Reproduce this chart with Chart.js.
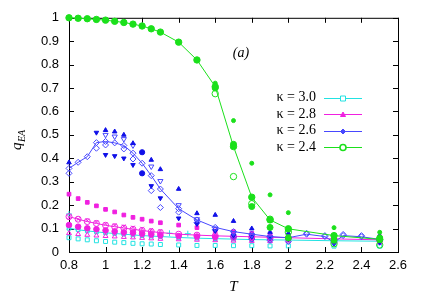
<!DOCTYPE html>
<html>
<head>
<meta charset="utf-8">
<script src="https://cdn.jsdelivr.net/npm/chart.js@4.4.0/dist/chart.umd.min.js"></script>
<style>
  html, body { margin: 0; padding: 0; background: #fff; }
</style>
</head>
<body>
<canvas id="myChart" width="424" height="297"></canvas>
<script>
// tick labels
const xTicks = [0.8, 1, 1.2, 1.4, 1.6, 1.8, 2, 2.2, 2.4, 2.6];
const yTicks = [0, 0.1, 0.2, 0.3, 0.4, 0.5, 0.6, 0.7, 0.8, 0.9, 1];

const seriesLabels = ['κ = 3.0', 'κ = 2.8', 'κ = 2.6', 'κ = 2.4'];

// temperatures
const tMain = [0.8, 0.85, 0.9, 0.95, 1.0, 1.05, 1.1, 1.15, 1.2, 1.25, 1.3, 1.4, 1.5, 1.6, 1.7, 1.8, 1.9, 2.0, 2.25, 2.5];
const tLow = [0.8, 0.85, 0.9, 0.95, 1.0, 1.05, 1.1, 1.15, 1.2, 1.25, 1.3];
const tBlue = [0.8, 0.85, 0.9, 0.95, 1.0, 1.05, 1.1, 1.15, 1.2, 1.25, 1.3, 1.4, 1.5, 1.6, 1.7, 1.8, 1.9, 2.0, 2.1, 2.2, 2.25, 2.3, 2.4, 2.5];

// averaged curves
const qCyan = [0.101, 0.095, 0.09, 0.086, 0.082, 0.079, 0.076, 0.073, 0.07, 0.068, 0.066, 0.062, 0.059, 0.057, 0.055, 0.053, 0.052, 0.051, 0.048, 0.046];
const qMagenta = [0.151, 0.14, 0.13, 0.122, 0.114, 0.108, 0.102, 0.097, 0.092, 0.087, 0.083, 0.076, 0.072, 0.069, 0.067, 0.065, 0.063, 0.061, 0.056, 0.052];
const qBlue = [0.357, 0.383, 0.407, 0.467, 0.472, 0.466, 0.455, 0.422, 0.379, 0.326, 0.269, 0.185, 0.137, 0.105, 0.087, 0.076, 0.066, 0.061, 0.076, 0.066, 0.041, 0.07, 0.065, 0.054];
const qGreen = [1.0, 0.998, 0.996, 0.993, 0.99, 0.985, 0.98, 0.973, 0.965, 0.953, 0.939, 0.896, 0.82, 0.706, 0.45, 0.234, 0.137, 0.099, 0.07, 0.054];

// single samples, kappa = 3.0
const cyanSquareQ = [0.061, 0.056, 0.052, 0.048, 0.045, 0.042, 0.04, 0.037, 0.035, 0.034, 0.032, 0.03, 0.028, 0.028, 0.027, 0.027, 0.026, 0.026, 0.025, 0.025];
const cyanCrossQ = [0.105, 0.1, 0.095, 0.09, 0.086, 0.082, 0.079, 0.076, 0.073, 0.07, 0.068];
const cyanPlusT = [0.8, 1.35, 1.45];
const cyanPlusQ = [0.162, 0.08, 0.078];

// single samples, kappa = 2.8
const magSquareQ = [0.247, 0.228, 0.212, 0.197, 0.182, 0.171, 0.158, 0.148, 0.14, 0.132, 0.125, 0.115, 0.104, 0.09, 0.087, 0.08, 0.075, 0.07, 0.07, 0.065];
const magDiscQ = [0.115, 0.108, 0.101, 0.097, 0.092, 0.088, 0.084, 0.082, 0.078, 0.075, 0.071, 0.068, 0.066, 0.064, 0.062, 0.06, 0.058, 0.056, 0.05, 0.048];
const magRingQ = [0.148, 0.14, 0.135, 0.128, 0.12, 0.115, 0.11, 0.105, 0.1, 0.095, 0.09];
const magTriQ = [0.08, 0.076, 0.073, 0.07, 0.068, 0.066, 0.064, 0.062, 0.06, 0.058, 0.056, 0.054, 0.052, 0.05, 0.048, 0.047, 0.046, 0.045, 0.042, 0.04];

// single samples, kappa = 2.6
const blueUpT = [0.8, 1.0, 1.05, 1.1, 1.15, 1.25, 1.3, 1.4, 1.5, 1.6, 1.7, 1.8, 1.9, 2.0, 2.25, 2.5];
const blueUpQ = [0.382, 0.52, 0.514, 0.5, 0.464, 0.393, 0.353, 0.269, 0.165, 0.158, 0.132, 0.1, 0.085, 0.08, 0.055, 0.07];
const blueDownT = [1.0, 1.05, 1.1, 1.15, 1.25, 1.3, 1.4, 1.5, 1.6, 1.7, 1.8, 1.9];
const blueDownQ = [0.5, 0.493, 0.482, 0.455, 0.365, 0.303, 0.2, 0.14, 0.1, 0.08, 0.072, 0.062];
const blueDownFillT = [0.95, 1.0, 1.05, 1.1, 1.15, 1.25, 1.3, 1.4, 1.5, 1.6, 1.7, 1.8, 1.9, 2.0, 2.25, 2.5];
const blueDownFillQ = [0.51, 0.415, 0.41, 0.4, 0.372, 0.282, 0.23, 0.144, 0.12, 0.09, 0.07, 0.065, 0.06, 0.055, 0.035, 0.04];
const blueDiamondT = [0.8, 0.95, 1.0, 1.1, 1.15, 1.25, 1.3, 1.4, 1.5, 1.6, 1.7, 1.8, 1.9, 2.0, 2.1, 2.2, 2.25, 2.3, 2.4, 2.5];
const blueDiamondQ = [0.336, 0.443, 0.457, 0.44, 0.397, 0.262, 0.19, 0.17, 0.125, 0.095, 0.065, 0.055, 0.05, 0.045, 0.08, 0.07, 0.045, 0.075, 0.07, 0.05];
const blueDiscT = [1.2, 1.2];
const blueDiscQ = [0.426, 0.336];

// single samples, kappa = 2.4
const greenT = [1.6, 1.7, 1.8, 1.9, 2.0, 2.25, 2.5];
const greenSmallQ = [0.721, 0.561, 0.379, 0.244, 0.168, 0.104, 0.084];
const greenRingQ = [0.676, 0.322, 0.206, 0.14, 0.085, 0.035, 0.03];
const greenDiscQ = [0.7, 0.46, 0.194, 0.105, 0.06, 0.05, 0.06];

{
  'use strict';

  const colors = {
    cyan: '#22e2e2',
    magenta: '#f020e0',
    blue: '#1010e8',
    blueLine: '#4848ff',
    green: '#1be01b',
  };

  const toPoints = function(xs, ys){
    return xs.map((x, i) => ({x: x, y: ys[i]}));
  };

  const lineSet = function(xs, ys, lineColor, color, style, radius, filled){
    return {
      data: toPoints(xs, ys),
      showLine: true,
      borderColor: lineColor,
      borderWidth: 1,
      pointStyle: style,
      pointRadius: radius,
      pointBorderColor: color,
      pointBackgroundColor: filled ? color : 'rgba(255,255,255,0)',
      pointBorderWidth: 1,
      clip: false,
    };
  };

  const dotSet = function(xs, ys, color, style, radius, filled, rotation){
    return {
      data: toPoints(xs, ys),
      showLine: false,
      pointStyle: style,
      pointRadius: radius,
      pointRotation: rotation || 0,
      pointBorderColor: color,
      pointBackgroundColor: filled ? color : 'rgba(255,255,255,0)',
      pointBorderWidth: 1,
      clip: false,
    };
  };

  const drawMarker = function(ctx, style, x, y, r, color, filled){
    ctx.save();
    ctx.strokeStyle = color;
    ctx.fillStyle = filled ? color : '#fff';
    ctx.lineWidth = style === 'ring' ? 1.6 : 1;
    ctx.beginPath();
    if(style === 'rect'){
      ctx.rect(x - r, y - r, 2 * r, 2 * r);
    } else if(style === 'triangle'){
      ctx.moveTo(x, y - r);
      ctx.lineTo(x + r, y + r * 0.8);
      ctx.lineTo(x - r, y + r * 0.8);
      ctx.closePath();
    } else if(style === 'diamond'){
      ctx.moveTo(x, y - r);
      ctx.lineTo(x + r, y);
      ctx.lineTo(x, y + r);
      ctx.lineTo(x - r, y);
      ctx.closePath();
    } else {
      ctx.arc(x, y, r, 0, Math.PI * 2);
    }
    ctx.fill();
    ctx.stroke();
    ctx.restore();
  };

  const framePlugin = {
    id: 'frame',
    beforeDatasetsDraw(chart){
      const {ctx, chartArea} = chart;
      const {left, right, top, bottom} = chartArea;
      ctx.save();
      ctx.strokeStyle = '#000';
      ctx.lineWidth = 1;
      ctx.strokeRect(left + 0.5, top + 0.5, right - left, bottom - top);
      ctx.beginPath();
      for(let v of xTicks){
        const px = Math.round(chart.scales.x.getPixelForValue(v)) + 0.5;
        ctx.moveTo(px, bottom);
        ctx.lineTo(px, bottom - 5);
        ctx.moveTo(px, top);
        ctx.lineTo(px, top + 5);
      }
      for(let v of yTicks){
        const py = Math.round(chart.scales.y.getPixelForValue(v)) + 0.5;
        ctx.moveTo(left, py);
        ctx.lineTo(left + 5, py);
        ctx.moveTo(right, py);
        ctx.lineTo(right - 5, py);
      }
      ctx.stroke();
      ctx.restore();
    },
    afterDraw(chart){
      const {ctx, chartArea} = chart;
      const {left, right, top} = chartArea;
      ctx.save();

      // panel tag
      ctx.fillStyle = '#000';
      ctx.font = 'italic 14px "Liberation Serif"';
      ctx.textAlign = 'center';
      ctx.textBaseline = 'middle';
      ctx.fillText('(a)', left + 172, top + 36);

      // y axis title with subscript
      ctx.save();
      ctx.translate(17, 138);
      ctx.rotate(-Math.PI / 2);
      ctx.textAlign = 'left';
      ctx.textBaseline = 'alphabetic';
      ctx.font = 'italic 15px "Liberation Serif"';
      ctx.fillText('q', -12, 4);
      ctx.font = 'italic 10px "Liberation Serif"';
      ctx.fillText('EA', -4, 8);
      ctx.restore();

      // legend
      const legendColors = [colors.cyan, colors.magenta, colors.blueLine, colors.green];
      const legendMarks = ['rect', 'triangle', 'diamond', 'ring'];
      const legendFilled = [false, true, true, false];
      const legendSize = [2.5, 2.5, 2.5, 3];
      ctx.font = '14px "Liberation Serif"';
      ctx.textAlign = 'right';
      ctx.textBaseline = 'middle';
      for(let i = 0; i < seriesLabels.length; i++){
        const y = top + 80 + i * 16.4;
        ctx.fillStyle = '#000';
        ctx.fillText(seriesLabels[i], right - 82, y);
        ctx.strokeStyle = legendColors[i];
        ctx.lineWidth = 1;
        ctx.beginPath();
        ctx.moveTo(right - 74, Math.round(y) + 0.5);
        ctx.lineTo(right - 36, Math.round(y) + 0.5);
        ctx.stroke();
        drawMarker(ctx, legendMarks[i], right - 55, Math.round(y) + 0.5, legendSize[i], legendColors[i], legendFilled[i]);
      }
      ctx.restore();
    }
  };

  const initChart = function(){
    const ctx = document.getElementById('myChart').getContext('2d');

    const datasets = [
      // kappa = 2.4
      lineSet(tMain, qGreen, colors.green, colors.green, 'circle', 3.2, true),
      dotSet(greenT, greenSmallQ, colors.green, 'circle', 2, true),
      dotSet(greenT, greenRingQ, colors.green, 'circle', 3.2, false),
      dotSet(greenT, greenDiscQ, colors.green, 'circle', 3, true),
      // kappa = 2.6
      lineSet(tBlue, qBlue, colors.blueLine, colors.blueLine, 'rectRot', 3, false),
      dotSet(blueUpT, blueUpQ, colors.blue, 'triangle', 2.6, true),
      dotSet(blueDownT, blueDownQ, colors.blueLine, 'triangle', 3, false, 180),
      dotSet(blueDownFillT, blueDownFillQ, colors.blue, 'triangle', 2.6, true, 180),
      dotSet(blueDiamondT, blueDiamondQ, colors.blueLine, 'rectRot', 3, false),
      dotSet(blueDiscT, blueDiscQ, colors.blue, 'circle', 2.6, true),
      // kappa = 2.8
      lineSet(tMain, qMagenta, colors.magenta, colors.magenta, 'circle', 3, false),
      dotSet(tMain, magSquareQ, colors.magenta, 'rect', 2.6, true),
      dotSet(tMain, magDiscQ, colors.magenta, 'circle', 2.8, true),
      dotSet(tLow, magRingQ, colors.magenta, 'crossRot', 2.5, false),
      dotSet(tMain, magTriQ, colors.magenta, 'triangle', 2.8, false),
      // kappa = 3.0
      lineSet(tMain, qCyan, colors.cyan, colors.cyan, 'rect', 2.6, false),
      dotSet(tMain, cyanSquareQ, colors.cyan, 'rect', 2.8, false),
      dotSet(tLow, cyanCrossQ, colors.cyan, 'crossRot', 2.8, false),
      dotSet(cyanPlusT, cyanPlusQ, colors.cyan, 'cross', 3, false),
    ];

    const tickFont = {family: '"Liberation Sans"', size: 13};

    // eslint-disable-next-line no-undef, no-unused-vars
    const myChart = new Chart(ctx, {
      type: 'scatter',
      data: {datasets: datasets},
      options: {
        responsive: false,
        animation: false,
        events: [],
        layout: {
          padding: {left: 0, right: 26, top: 17, bottom: 0},
        },
        scales: {
          x: {
            type: 'linear',
            min: 0.8,
            max: 2.6,
            afterBuildTicks: (scale) => { scale.ticks = xTicks.map(v => ({value: v})); },
            afterFit: (scale) => { scale.height = 45; },
            ticks: {
              callback: (value) => String(value),
              font: tickFont,
              color: '#000',
              padding: 6,
              maxRotation: 0,
              autoSkip: false,
            },
            grid: {display: false, drawTicks: false},
            border: {display: false},
            title: {
              display: true,
              text: 'T',
              color: '#000',
              font: {family: '"Liberation Serif"', style: 'italic', size: 15},
              padding: {top: 0, bottom: 1},
            },
          },
          y: {
            type: 'linear',
            min: 0,
            max: 1,
            afterBuildTicks: (scale) => { scale.ticks = yTicks.map(v => ({value: v})); },
            afterFit: (scale) => { scale.width = 69; },
            ticks: {
              callback: (value) => String(value),
              font: tickFont,
              color: '#000',
              padding: 10,
              autoSkip: false,
            },
            grid: {display: false, drawTicks: false},
            border: {display: false},
          },
        },
        plugins: {
          legend: {display: false},
          tooltip: {enabled: false},
        },
      },
      plugins: [framePlugin],
    });
  };

  initChart();
}
</script>
</body>
</html>
